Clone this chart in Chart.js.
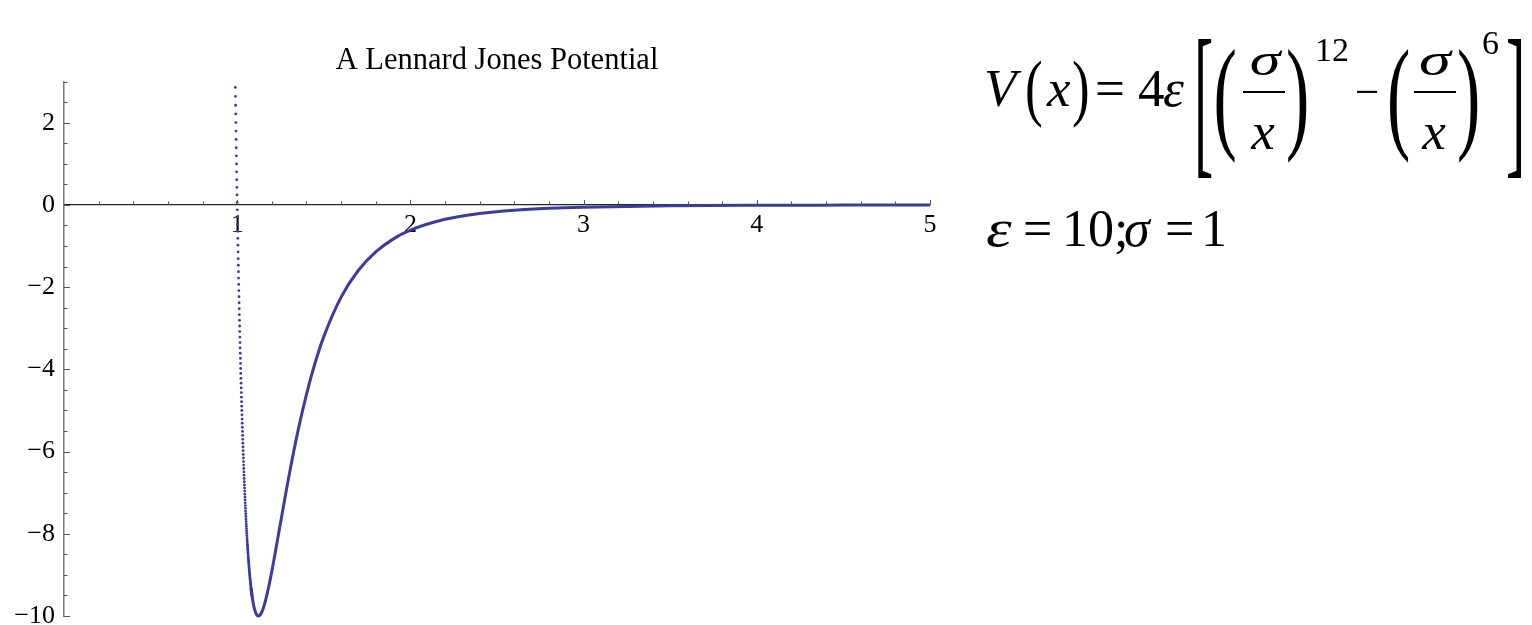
<!DOCTYPE html>
<html>
<head>
<meta charset="utf-8">
<title>A Lennard Jones Potential</title>
<script src="https://cdn.jsdelivr.net/npm/chart.js@4/dist/chart.umd.min.js"></script>
<style>
  html, body { margin: 0; padding: 0; background: #fff; width: 1532px; height: 625px; overflow: hidden; }
  #wrap { position: relative; width: 1532px; height: 625px; }
  #c { position: absolute; left: 0; top: 0; }
  .eq { position: absolute; font-family: "Liberation Serif", "Times New Roman", serif; line-height: 1; white-space: pre; color: #000; }
  .i { font-style: italic; }
  .bar { position: absolute; height: 2px; background: #000; }
  .ctr { text-align: center; }
</style>
</head>
<body>
<div id="wrap">
  <canvas id="c" width="1532" height="625"></canvas>

  <!-- V(x) = 4ε[(σ/x)^12 − (σ/x)^6] -->
  <span class="eq i" style="left:984px;top:61.6px;font-size:53px">V</span>
  <span class="eq" style="left:1025px;top:63.1px;font-size:53px;transform:scaleY(1.39);transform-origin:50% 58%">(</span>
  <span class="eq i" style="left:1047px;top:61.6px;font-size:53px">x</span>
  <span class="eq" style="left:1072px;top:63.1px;font-size:53px;transform:scaleY(1.39);transform-origin:50% 58%">)</span>
  <span class="eq" style="left:1095px;top:61.6px;font-size:53px">=</span>
  <span class="eq" style="left:1138px;top:61.6px;font-size:53px">4</span>
  <span class="eq i" style="left:1163px;top:61.6px;font-size:53px">ε</span>
  <span class="eq" style="left:1194px;top:77.2px;font-size:58px;transform:scaleY(2.9);transform-origin:50% 54.9%">[</span>

  <span class="eq" style="left:1213.6px;top:63.7px;font-size:70px;transform:scaleY(1.79);transform-origin:50% 58.25%">(</span>
  <span class="eq i ctr" style="left:1240px;width:50px;top:36.5px;font-size:46px;transform:scaleX(1.35);transform-origin:50% 50%">σ</span>
  <div class="bar" style="left:1243px;top:91px;width:42px"></div>
  <span class="eq i ctr" style="left:1238px;width:50px;top:105.1px;font-size:53px">x</span>
  <span class="eq" style="left:1286px;top:63.7px;font-size:70px;transform:scaleY(1.79);transform-origin:50% 58.25%">)</span>
  <span class="eq" style="left:1315px;top:32.5px;font-size:34px">12</span>

  <span class="eq" style="left:1355px;top:70px;font-size:43px">−</span>

  <span class="eq" style="left:1387px;top:63.7px;font-size:70px;transform:scaleY(1.79);transform-origin:50% 58.25%">(</span>
  <span class="eq i ctr" style="left:1410px;width:50px;top:36.5px;font-size:46px;transform:scaleX(1.4);transform-origin:50% 50%">σ</span>
  <div class="bar" style="left:1414px;top:91px;width:42px"></div>
  <span class="eq i ctr" style="left:1409px;width:50px;top:105.1px;font-size:53px">x</span>
  <span class="eq" style="left:1457px;top:63.7px;font-size:70px;transform:scaleY(1.79);transform-origin:50% 58.25%">)</span>
  <span class="eq" style="left:1482px;top:25.5px;font-size:34px">6</span>

  <span class="eq" style="left:1506px;top:77.2px;font-size:58px;transform:scaleY(2.9);transform-origin:50% 54.9%">]</span>

  <!-- ε = 10; σ = 1 -->
  <span class="eq i" style="left:986px;top:202.5px;font-size:52px;transform:scaleX(1.25);transform-origin:0 50%">ε</span>
  <span class="eq" style="left:1023px;top:202.5px;font-size:52px">=</span>
  <span class="eq" style="left:1062px;top:202.5px;font-size:52px">10</span>
  <span class="eq" style="left:1114px;top:202.5px;font-size:52px">;</span>
  <span class="eq i" style="left:1124px;top:202.5px;font-size:52px">σ</span>
  <span class="eq" style="left:1165px;top:202.5px;font-size:52px">=</span>
  <span class="eq" style="left:1201px;top:202.5px;font-size:52px">1</span>
</div>

<script>
// Repulsive wall: sampled points, drawn as separate dots
const wallX = [
  0.98925, 0.99000, 0.99075, 0.99150, 0.99225, 0.99300, 0.99375, 0.99450, 0.99525,
  0.99600, 0.99675, 0.99750, 0.99825, 0.99900, 0.99975, 1.00050, 1.00125, 1.00200, 1.00275,
  1.00350, 1.00425, 1.00500, 1.00575, 1.00650, 1.00725, 1.00800, 1.00875, 1.00950, 1.01025,
  1.01100, 1.01175, 1.01250, 1.01325, 1.01400, 1.01475, 1.01550, 1.01625, 1.01700, 1.01775,
  1.01850, 1.01925, 1.02000, 1.02075, 1.02150, 1.02225, 1.02300, 1.02375, 1.02450, 1.02525,
  1.02600, 1.02675, 1.02750, 1.02825, 1.02900, 1.02975, 1.03050, 1.03125, 1.03200, 1.03275,
  1.03350, 1.03425, 1.03500, 1.03575, 1.03650, 1.03725, 1.03800, 1.03875, 1.03950, 1.04025,
  1.04100, 1.04175, 1.04250, 1.04325, 1.04400, 1.04475, 1.04550, 1.04625, 1.04700, 1.04775,
  1.04850, 1.04925, 1.05000, 1.05075, 1.05150, 1.05225, 1.05300, 1.05375, 1.05450, 1.05525,
  1.05600, 1.05675, 1.05750, 1.05825, 1.05900, 1.05975, 1.06050, 1.06125, 1.06200, 1.06275,
  1.06350, 1.06425, 1.06500, 1.06575, 1.06650, 1.06725, 1.06800, 1.06875, 1.06950, 1.07025,
  1.07100, 1.07175, 1.07250, 1.07325, 1.07400, 1.07475, 1.07550, 1.07625, 1.07700, 1.07775,
  1.07850, 1.07925, 1.08000, 1.08075, 1.08150, 1.08225, 1.08300, 1.08375, 1.08450, 1.08525
];
const wallV = [
  2.8591, 2.6407, 2.4252, 2.2126, 2.0029, 1.7961, 1.5922, 1.3912, 1.1932,
  0.9966, 0.8042, 0.6143, 0.4270, 0.2423, 0.0601, -0.1194, -0.2964, -0.4708, -0.6427,
  -0.8132, -0.9800, -1.1446, -1.3069, -1.4670, -1.6247, -1.7802, -1.9334, -2.0843, -2.2329,
  -2.3803, -2.5246, -2.6668, -2.8069, -2.9451, -3.0813, -3.2154, -3.3475, -3.4776, -3.6057,
  -3.7327, -3.8568, -3.9792, -4.0998, -4.2186, -4.3357, -4.4509, -4.5643, -4.6760, -4.7859,
  -4.8948, -5.0013, -5.1061, -5.2094, -5.3111, -5.4112, -5.5097, -5.6066, -5.7020, -5.7958,
  -5.8887, -5.9794, -6.0688, -6.1567, -6.2432, -6.3284, -6.4121, -6.4944, -6.5754, -6.6549,
  -6.7337, -6.8106, -6.8862, -6.9606, -7.0337, -7.1056, -7.1762, -7.2457, -7.3139, -7.3808,
  -7.4471, -7.5117, -7.5752, -7.6376, -7.6989, -7.7591, -7.8182, -7.8762, -7.9331, -7.9890,
  -8.0442, -8.0980, -8.1507, -8.2025, -8.2534, -8.3032, -8.3521, -8.4001, -8.4471, -8.4931,
  -8.5386, -8.5828, -8.6261, -8.6686, -8.7102, -8.7509, -8.7908, -8.8299, -8.8681, -8.9055,
  -8.9424, -8.9781, -9.0131, -9.0473, -9.0808, -9.1136, -9.1455, -9.1768, -9.2073, -9.2370,
  -9.2663, -9.2946, -9.3223, -9.3492, -9.3756, -9.4012, -9.4262, -9.4506, -9.4742, -9.4973
];

// Well and attractive tail: dense enough to read as a solid stroke
const wellX = [
  1.08, 1.09, 1.10, 1.11, 1.12, 1.1225, 1.13, 1.14, 1.15, 1.16, 1.18, 1.20,
  1.22, 1.25, 1.28, 1.30, 1.35, 1.40, 1.45, 1.50, 1.6, 1.7, 1.8, 1.9, 2.0,
  2.2, 2.4, 2.6, 2.8, 3.0, 3.5, 4.0, 4.5, 5.0
];
const wellV = [
  -9.3222, -9.6293, -9.8337, -9.9520, -9.9982, -10.0000, -9.9845, -9.9211, -9.8168, -9.6791, -9.3285, -8.9097,
  -8.4520, -7.7370, -7.0270, -6.5702, -5.5162, -4.6069, -3.8407, -3.2034, -2.2421, -1.5885, -1.1415, -0.8322, -0.6152,
  -0.3497, -0.2082, -0.1291, -0.0828, -0.0548, -0.0217, -0.0098, -0.0048, -0.0026
];

const xTickValues = [1, 2, 3, 4, 5];
const xTickLabels = ['1', '2', '3', '4', '5'];
const yTickValues = [-10, -8, -6, -4, -2, 0, 2];
const yTickLabels = ['−10', '−8', '−6', '−4', '−2', '0', '2'];
const chartTitle = 'A Lennard Jones Potential';

const serif = 'Liberation Serif';
const curveColor = '#3c3c9e';
const dotColor = '#3838a6';

// Short tick marks pointing into the plot, Mathematica style
const innerTicks = {
  id: 'innerTicks',
  afterDraw(chart) {
    const { ctx, scales: { x, y } } = chart;
    const yAxisPx = y.getPixelForValue(0);
    const xAxisPx = x.getPixelForValue(0);
    ctx.save();
    ctx.strokeStyle = '#555';
    ctx.lineWidth = 1;
    ctx.beginPath();
    for (let k = 1; k <= 25; k++) {
      const px = Math.round(x.getPixelForValue(k * 0.2)) + 0.5;
      const len = k % 5 === 0 ? 5 : 3.5;
      ctx.moveTo(px, yAxisPx);
      ctx.lineTo(px, yAxisPx - len);
    }
    for (let k = -20; k <= 6; k++) {
      const py = Math.round(y.getPixelForValue(k * 0.5)) + 0.5;
      const len = k % 4 === 0 ? 6 : 3.5;
      ctx.moveTo(xAxisPx, py);
      ctx.lineTo(xAxisPx + len, py);
    }
    ctx.stroke();
    ctx.restore();
  }
};

new Chart(document.getElementById('c'), {
  type: 'scatter',
  data: {
    datasets: [
      {
        data: wallX.map((v, i) => ({ x: v, y: wallV[i] })),
        showLine: false,
        pointRadius: 1.4,
        pointBorderWidth: 0,
        pointBackgroundColor: dotColor,
        clip: false
      },
      {
        data: wellX.map((v, i) => ({ x: v, y: wellV[i] })),
        showLine: true,
        pointRadius: 0,
        borderColor: curveColor,
        borderWidth: 3,
        cubicInterpolationMode: 'monotone',
        clip: false
      }
    ]
  },
  options: {
    responsive: false,
    animation: false,
    devicePixelRatio: 1,
    events: [],
    layout: { padding: { left: 0, right: 602, top: 0, bottom: 9 } },
    plugins: {
      legend: { display: false },
      tooltip: { enabled: false },
      title: {
        display: true,
        text: chartTitle,
        fullSize: false,
        color: '#000',
        font: { family: serif, size: 30.5, weight: 'normal' },
        padding: { top: 43, bottom: 2 }
      }
    },
    scales: {
      x: {
        type: 'linear',
        position: { y: 0 },
        min: 0,
        max: 5,
        afterBuildTicks: (s) => { s.ticks = xTickValues.map(v => ({ value: v })); },
        afterFit: (s) => { s.paddingLeft = 0; s.paddingRight = 0; },
        ticks: {
          autoSkip: false,
          maxRotation: 0,
          padding: 5,
          color: '#000',
          font: { family: serif, size: 26 },
          callback: (v) => { const i = xTickValues.indexOf(v); return i >= 0 ? xTickLabels[i] : ''; }
        },
        grid: { drawOnChartArea: false, drawTicks: false },
        border: { color: '#222', width: 1.3 }
      },
      y: {
        type: 'linear',
        position: 'left',
        min: -10,
        max: 3,
        afterBuildTicks: (s) => { s.ticks = yTickValues.map(v => ({ value: v })); },
        afterFit: (s) => { s.width = 64; s.paddingTop = 0; s.paddingBottom = 0; },
        ticks: {
          autoSkip: false,
          padding: 9,
          color: '#000',
          font: { family: serif, size: 26 },
          callback: (v) => { const i = yTickValues.indexOf(v); return i >= 0 ? yTickLabels[i] : ''; }
        },
        grid: { drawOnChartArea: false, drawTicks: false },
        border: { color: '#777', width: 1.5 }
      }
    }
  },
  plugins: [innerTicks]
});
</script>
</body>
</html>
